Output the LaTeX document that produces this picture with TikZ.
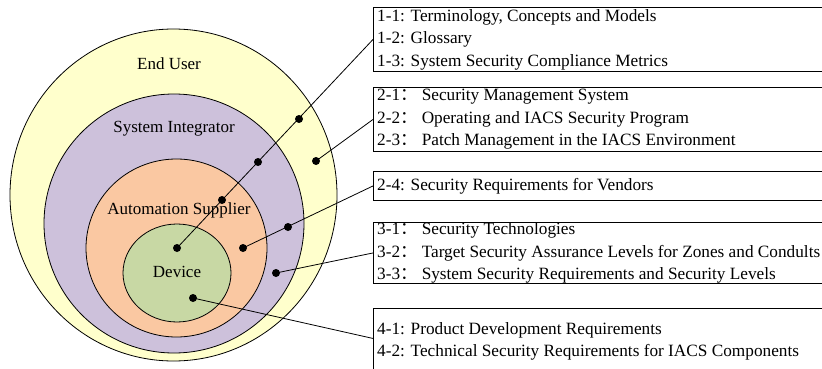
\documentclass[tikz,border=0pt]{standalone}
\usepackage{fontspec}
\setmainfont{Liberation Serif}
\newfontfamily\cjkfont{Noto Sans CJK SC}
\newcommand\fwc{\smash{\cjkfont ：}}
\definecolor{euyellow}{RGB}{255,255,204}
\definecolor{silav}{RGB}{205,193,219}
\definecolor{aspeach}{RGB}{250,200,162}
\definecolor{devgreen}{RGB}{200,216,164}
\begin{document}
\begin{tikzpicture}[x=1pt,y=-1pt,
  ring/.style={draw=black, line width=0.8pt},
  lbl/.style={font=\fontsize{17}{20}\selectfont, inner sep=0pt},
  dot/.style={circle, fill=black, inner sep=0pt, minimum size=8pt},
  conn/.style={draw=black, line width=0.8pt},
  boxframe/.style={draw=black, line width=0.9pt, anchor=north west, minimum width=540pt, inner sep=0pt},
  boxtext/.style={anchor=west, inner sep=0pt, align=left, font=\fontsize{17.25}{22.5}\selectfont}
]
\useasboundingbox (0,0) rectangle (822,369);
\clip (0,0) rectangle (822,369);
\fill[white] (0,0) rectangle (822,369);
% rings
\draw[ring, fill=euyellow] (173.5,195) ellipse [x radius=163.5, y radius=166];
\draw[ring, fill=silav] (174,223.5) ellipse [x radius=130, y radius=129.5];
\draw[ring, fill=aspeach] (176.5,248) ellipse [x radius=90.5, y radius=89];
\draw[ring, fill=devgreen] (177,273) ellipse [x radius=54, y radius=49];
% ring labels
\node[lbl] (lEU) at (169,64) {End User};
\node[lbl] (lSI) at (174,129) {System Integrator};
\node[lbl] (lAS) at (179,210) {Automation Supplier};
\node[lbl] (lDV) at (177,272) {Device};
% boxes
\node[boxframe, minimum height=64pt] (b1) at (373,7) {};
\node[boxframe, minimum height=64pt] (b2) at (373,87) {};
\node[boxframe, minimum height=29pt] (b3) at (373,171) {};
\node[boxframe, minimum height=61pt] (b4) at (373,222) {};
\node[boxframe, minimum height=64pt] (b5) at (373,308) {};
\node[boxtext] (t1) at ([xshift=4pt]b1.west) {1-1: Terminology, Concepts and Models\\1-2: Glossary\\1-3: System Security Compliance Metrics};
\node[boxtext] (t2) at ([xshift=4pt]b2.west) {2-1\fwc{} Security Management System\\2-2\fwc{} Operating and IACS Security Program\\2-3\fwc{} Patch Management in the IACS Environment};
\node[boxtext] (t3) at ([xshift=4pt]b3.west) {2-4: Security Requirements for Vendors};
\node[boxtext] (t4) at ([xshift=4pt]b4.west) {3-1\fwc{} Security Technologies\\3-2\fwc{} Target Security Assurance Levels for Zones and Condults\\3-3\fwc{} System Security Requirements and Security Levels};
\node[boxtext] (t5) at ([xshift=4pt,yshift=-1pt]b5.west) {4-1: Product Development Requirements\\4-2: Technical Security Requirements for IACS Components};
% dots
\node[dot] (d1) at (299,119) {};
\node[dot] (d2) at (258,162) {};
\node[dot] (d3) at (222,200) {};
\node[dot] (d4) at (177,248) {};
\node[dot] (e1) at (316,161) {};
\node[dot] (e2) at (288,227) {};
\node[dot] (e3) at (243,248) {};
\node[dot] (f1) at (276,273) {};
\node[dot] (g1) at (193,298) {};
% connectors
\draw[conn] (d4.center) -- (b1.west);
\draw[conn] (e1.center) -- (b2.west);
\draw[conn] (e3.center) -- (b3.west);
\draw[conn] (f1.center) -- (b4.west);
\draw[conn] (g1.center) -- ([yshift=2pt]b5.west);
\end{tikzpicture}
\end{document}
